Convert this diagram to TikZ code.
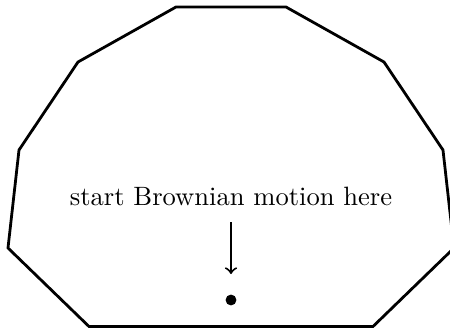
\documentclass[tikz,border=0pt]{standalone}
\begin{document}
\begin{tikzpicture}[x=0.3766pt,y=-0.3766pt,
  wall/.style={line width=1.05pt,line join=miter},
  pointer/.style={->,line width=0.75pt},
  startdot/.style={circle,fill=black,inner sep=0pt,minimum size=4.1pt}]
\useasboundingbox (0,0) rectangle (450,329);
\clip (0,0) rectangle (450,329);
\draw[wall] (176,7) -- (286,7) -- (384,62) -- (443,150) -- (454,248) -- (373,326.5)
  -- (89,326.5) -- (8,248) -- (19,150) -- (78,62) -- cycle;
\node[inner sep=0pt,anchor=base] (t) at (231,205) {start Brownian motion here};
\node[startdot] (d) at (231,300) {};
\coordinate (a1) at (231,222);
\coordinate (a2) at (231,274);
\draw[pointer] (a1) -- (a2);
\end{tikzpicture}
\end{document}
